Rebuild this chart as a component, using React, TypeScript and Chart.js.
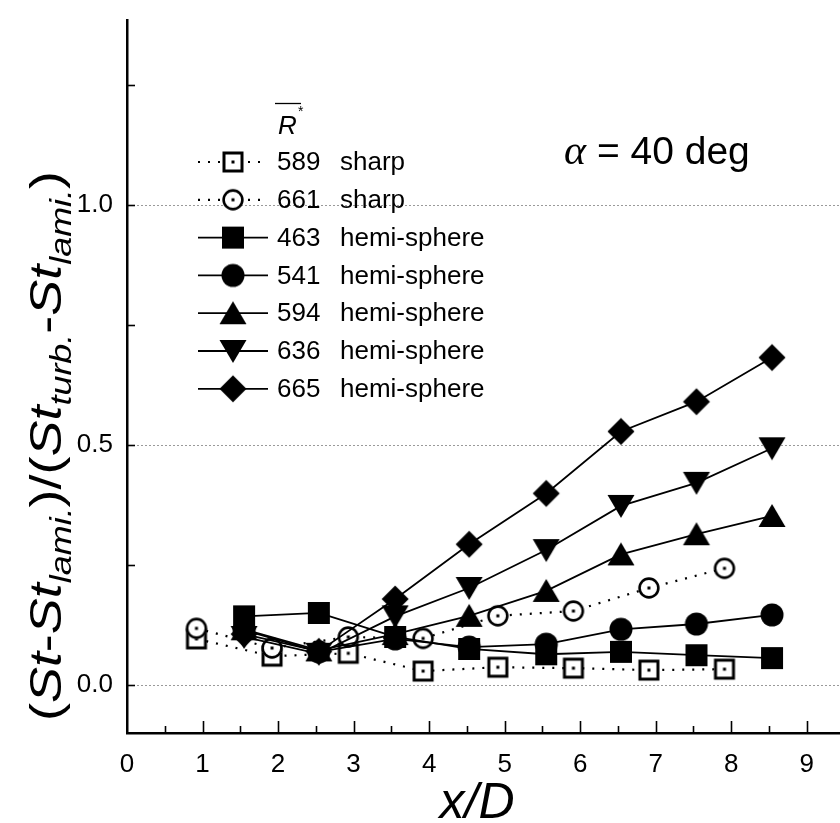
import React, { useEffect, useRef } from "react";
import { Chart, registerables } from "chart.js";

Chart.register(...registerables);

// ---- data ----
const sharpX = [0.92, 1.92, 2.93, 3.92, 4.91, 5.91, 6.91, 7.91];
const hemiX = [1.55, 2.54, 3.55, 4.53, 5.55, 6.54, 7.54, 8.54];

const r589Sharp = [0.096, 0.06, 0.066, 0.029, 0.037, 0.035, 0.031, 0.033];
const r661Sharp = [0.118, 0.077, 0.1, 0.097, 0.144, 0.154, 0.202, 0.243];
const r463Hemi = [0.143, 0.15, 0.1, 0.075, 0.064, 0.069, 0.062, 0.056];
const r541Hemi = [0.114, 0.069, 0.096, 0.079, 0.085, 0.116, 0.127, 0.146];
const r594Hemi = [0.116, 0.072, 0.106, 0.144, 0.196, 0.272, 0.314, 0.352];
const r636Hemi = [0.1, 0.065, 0.143, 0.202, 0.281, 0.373, 0.421, 0.493];
const r665Hemi = [0.106, 0.07, 0.179, 0.293, 0.399, 0.528, 0.59, 0.682];

const legendNumbers = ["589", "661", "463", "541", "594", "636", "665"];
const legendNames = ["sharp", "sharp", "hemi-sphere", "hemi-sphere", "hemi-sphere", "hemi-sphere", "hemi-sphere"];
const markerKinds = ["openSquare", "openCircle", "square", "circle", "triUp", "triDown", "diamond"];

const xTickValues = [0, 1, 2, 3, 4, 5, 6, 7, 8, 9];
const xTickLabels = ["0", "1", "2", "3", "4", "5", "6", "7", "8", "9"];
const yTickValues = [0, 0.5, 1.0];
const yTickLabels = ["0.0", "0.5", "1.0"];
const annotationText = " = 40 deg";

const SANS = '"Liberation Sans", Arial, Helvetica, sans-serif';

function makeMarker(kind: string): HTMLCanvasElement {
  const S = 32;
  const c = document.createElement("canvas");
  c.width = S;
  c.height = S;
  const g = c.getContext("2d")!;
  const m = S / 2;
  g.fillStyle = "#000";
  g.strokeStyle = "#000";
  const dot = () => {
    g.fillStyle = "#000";
    g.fillRect(m - 1.5, m - 1.5, 3, 3);
  };
  switch (kind) {
    case "openSquare":
      g.fillStyle = "#fff";
      g.fillRect(m - 10, m - 10, 20, 20);
      g.lineWidth = 3;
      g.strokeRect(m - 9, m - 9, 18, 18);
      dot();
      break;
    case "openCircle":
      g.fillStyle = "#fff";
      g.beginPath();
      g.arc(m, m, 10.5, 0, Math.PI * 2);
      g.fill();
      g.lineWidth = 2.6;
      g.beginPath();
      g.arc(m, m, 9.4, 0, Math.PI * 2);
      g.stroke();
      dot();
      break;
    case "square":
      g.fillRect(m - 11, m - 11, 22, 22);
      break;
    case "circle":
      g.beginPath();
      g.arc(m, m, 11.5, 0, Math.PI * 2);
      g.fill();
      break;
    case "triUp":
      g.beginPath();
      g.moveTo(m, m - 12);
      g.lineTo(m + 13.5, m + 11);
      g.lineTo(m - 13.5, m + 11);
      g.closePath();
      g.fill();
      break;
    case "triDown":
      g.beginPath();
      g.moveTo(m, m + 12);
      g.lineTo(m + 13.5, m - 11);
      g.lineTo(m - 13.5, m - 11);
      g.closePath();
      g.fill();
      break;
    case "diamond":
      g.beginPath();
      g.moveTo(m, m - 13.5);
      g.lineTo(m + 13.5, m);
      g.lineTo(m, m + 13.5);
      g.lineTo(m - 13.5, m);
      g.closePath();
      g.fill();
      break;
  }
  return c;
}

function pts(xs: number[], ys: number[]) {
  return xs.map((x, i) => ({ x, y: ys[i] }));
}

export default function App() {
  const ref = useRef<HTMLCanvasElement | null>(null);

  useEffect(() => {
    const canvas = ref.current;
    if (!canvas) return;
    const markers = markerKinds.map(makeMarker);
    const seriesY = [r589Sharp, r661Sharp, r463Hemi, r541Hemi, r594Hemi, r636Hemi, r665Hemi];
    const seriesX = [sharpX, sharpX, hemiX, hemiX, hemiX, hemiX, hemiX];
    const dotted = [true, true, false, false, false, false, false];

    const datasets = seriesY.map((ys, i) => ({
      label: legendNumbers[i] + " " + legendNames[i],
      data: pts(seriesX[i], ys),
      borderColor: "#000",
      backgroundColor: "#000",
      borderWidth: dotted[i] ? 2.2 : 1.8,
      borderDash: dotted[i] ? [2, 8] : [],
      pointStyle: markers[i] as any,
      pointRadius: 12,
      pointHoverRadius: 12,
      tension: 0,
      fill: false,
      order: 10 - i,
    }));

    const decor = {
      id: "decor",
      beforeDatasetsDraw(chart: any) {
        const { ctx, chartArea, scales } = chart;
        ctx.save();
        ctx.strokeStyle = "#9a9a9a";
        ctx.lineWidth = 1;
        ctx.setLineDash([2, 2]);
        yTickValues.forEach((v) => {
          const y = Math.round(scales.y.getPixelForValue(v)) + 0.5;
          ctx.beginPath();
          ctx.moveTo(chartArea.left + 2, y);
          ctx.lineTo(chartArea.right, y);
          ctx.stroke();
        });
        ctx.restore();
      },
      afterDraw(chart: any) {
        const { ctx, chartArea, scales } = chart;
        const xs = scales.x;
        const ys = scales.y;
        ctx.save();
        // tick marks (inside)
        ctx.strokeStyle = "#000";
        ctx.lineWidth = 1.6;
        for (let k = 0; k * 0.5 <= xs.max; k++) {
          const v = k * 0.5;
          if (v === 0) continue;
          const x = Math.round(xs.getPixelForValue(v)) + 0.5;
          const len = k % 2 === 0 ? 12 : 7;
          ctx.beginPath();
          ctx.moveTo(x, chartArea.bottom);
          ctx.lineTo(x, chartArea.bottom - len);
          ctx.stroke();
        }
        for (let k = 0; k * 0.25 <= ys.max; k++) {
          const v = k * 0.25;
          const y = Math.round(ys.getPixelForValue(v)) + 0.5;
          ctx.beginPath();
          ctx.moveTo(chartArea.left, y);
          ctx.lineTo(chartArea.left + 8, y);
          ctx.stroke();
        }

        // legend
        const rowY0 = 162;
        const rowStep = 37.8;
        ctx.fillStyle = "#000";
        ctx.font = `26px ${SANS}`;
        ctx.textBaseline = "middle";
        ctx.textAlign = "left";
        markers.forEach((mk, i) => {
          const y = rowY0 + i * rowStep;
          ctx.save();
          ctx.strokeStyle = "#000";
          if (dotted[i]) {
            ctx.lineWidth = 2.2;
            ctx.setLineDash([2, 8]);
          } else {
            ctx.lineWidth = 1.8;
          }
          ctx.beginPath();
          ctx.moveTo(198, y);
          ctx.lineTo(268, y);
          ctx.stroke();
          ctx.restore();
          ctx.drawImage(mk, 233 - mk.width / 2, y - mk.height / 2);
          ctx.fillText(legendNumbers[i], 277, y + 1);
          ctx.fillText(legendNames[i], 340, y + 1);
        });
        // R* header
        ctx.font = `italic 26px ${SANS}`;
        ctx.textBaseline = "alphabetic";
        ctx.fillText("R", 278, 134);
        ctx.font = `14px ${SANS}`;
        ctx.fillText("*", 298, 116);
        ctx.lineWidth = 1.3;
        ctx.beginPath();
        ctx.moveTo(275, 103.5);
        ctx.lineTo(301, 103.5);
        ctx.stroke();

        // alpha annotation
        ctx.font = `italic 42px "Liberation Serif", "DejaVu Serif", serif`;
        ctx.fillText("\u03b1", 564, 164);
        const aw = ctx.measureText("\u03b1").width;
        ctx.font = `39px ${SANS}`;
        ctx.fillText(annotationText, 564 + aw, 164);

        // x title
        ctx.font = `italic 50px ${SANS}`;
        ctx.textAlign = "center";
        ctx.fillText("x/D", 477, 818);

        // y title with subscripts
        const main = `45px ${SANS}`;
        const mainIt = `italic 45px ${SANS}`;
        const sub = `italic 30px ${SANS}`;
        const segs: [string, string, number][] = [
          ["(", main, 0],
          ["St", mainIt, 0],
          ["-", main, 0],
          ["St", mainIt, 0],
          ["lami.", sub, 10],
          [")/(", main, 0],
          ["St", mainIt, 0],
          ["turb.", sub, 10],
          ["-", main, 0],
          ["St", mainIt, 0],
          ["lami.", sub, 10],
          [")", main, 0],
        ];
        let total = 0;
        const widths = segs.map(([t, f]) => {
          ctx.font = f;
          const w = ctx.measureText(t).width;
          total += w;
          return w;
        });
        const targetLen = 550;
        const stretch = targetLen / total;
        ctx.translate(61, 446);
        ctx.rotate(-Math.PI / 2);
        ctx.scale(stretch, 1);
        ctx.textAlign = "left";
        ctx.textBaseline = "alphabetic";
        let cx = -total / 2;
        segs.forEach(([t, f, dy], i) => {
          ctx.font = f;
          ctx.fillText(t, cx, dy);
          cx += widths[i];
        });
        ctx.restore();
      },
    };

    const chart = new Chart(canvas, {
      type: "line",
      data: { datasets: datasets as any },
      options: {
        animation: false,
        responsive: false,
        devicePixelRatio: 1,
        layout: { autoPadding: false, padding: { top: 20, left: 0, right: 0, bottom: 0 } },
        plugins: {
          legend: { display: false },
          tooltip: { enabled: false },
          title: { display: false },
        },
        scales: {
          x: {
            type: "linear",
            min: 0,
            max: 9.44,
            afterBuildTicks: (s: any) => {
              s.ticks = xTickValues.map((v) => ({ value: v }));
            },
            afterFit: (s: any) => {
              s.height = 90;
              s.paddingLeft = 0;
              s.paddingRight = 0;
            },
            ticks: {
              autoSkip: false,
              maxRotation: 0,
              padding: 16,
              color: "#000",
              font: { family: SANS, size: 26 },
              callback: (_v: any, i: number) => xTickLabels[i],
            },
            grid: { display: false, drawTicks: false },
            border: { display: true, color: "#000", width: 2.5 },
          },
          y: {
            type: "linear",
            min: -0.1,
            max: 1.385,
            afterBuildTicks: (s: any) => {
              s.ticks = yTickValues.map((v) => ({ value: v }));
            },
            afterFit: (s: any) => {
              s.width = 127;
              s.paddingTop = 0;
              s.paddingBottom = 0;
            },
            ticks: {
              autoSkip: false,
              padding: 14,
              color: "#000",
              font: { family: SANS, size: 26 },
              callback: (_v: any, i: number) => yTickLabels[i],
            },
            grid: { display: false, drawTicks: false },
            border: { display: true, color: "#000", width: 2.5 },
          },
        },
      } as any,
      plugins: [decor as any],
    });
    return () => chart.destroy();
  }, []);

  return (
    <div style={{ position: "absolute", left: 0, top: 0, width: 840, height: 823, background: "#fff", overflow: "hidden" }}>
      <canvas ref={ref} width={840} height={823} style={{ width: 840, height: 823 }} />
    </div>
  );
}
